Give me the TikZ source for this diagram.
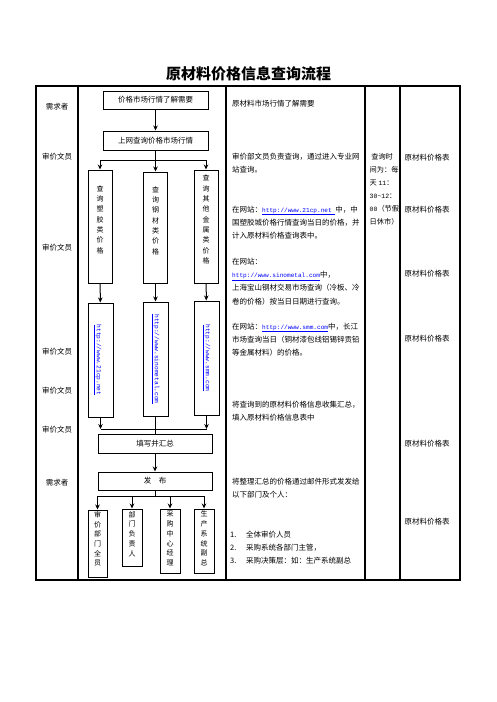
\documentclass[tikz,border=0pt]{standalone}
\usepackage{fontspec}
\setmainfont{Noto Sans CJK SC}
\newfontfamily\urlf{Liberation Mono}
\usetikzlibrary{arrows.meta}
\definecolor{linkblue}{RGB}{0,0,255}
\newcommand{\lnk}[1]{{\fontsize{6.1}{7}\urlf\color{linkblue}\underline{#1}}}
\begin{document}
\begin{tikzpicture}[x=1pt,y=-1pt,
  tbl/.style={line width=1.2pt},
  fbox/.style={draw, line width=1pt, inner sep=0pt, font=\fontsize{7.5}{9}\selectfont},
  vtext/.style={align=center, inner sep=0pt, font=\fontsize{7}{10.3}\selectfont},
  btext/.style={align=center, inner sep=0pt, font=\fontsize{7}{9.7}\selectfont},
  utext/.style={rotate=-90, inner sep=0pt, font=\fontsize{6.2}{7}\urlf\color{linkblue}},
  body/.style={anchor=north west, align=left, inner sep=0pt, font=\fontsize{7.5}{13.4}\selectfont},
  lab/.style={inner sep=0pt, font=\fontsize{7.5}{9}\selectfont},
  arr/.style={line width=1pt, -{Stealth[length=5pt,width=4.5pt]}},
  ln/.style={line width=1pt}]
\useasboundingbox (0,0) rectangle (496,702);
% title
\node[inner sep=0pt, font=\fontsize{15}{18}\bfseries] (title) at (248.5,74) {原材料价格信息查询流程};
% table
\draw[tbl] (36,86) rectangle (460,580);
\draw[tbl] (78,86) -- (78,580);
\draw[tbl] (226,86) -- (226,580);
\draw[tbl] (365,86) -- (365,580);
\draw[tbl] (400,86) -- (400,580);
% left labels
\node[lab] (l1) at (57,107) {需求者};
\node[lab] (l2) at (57,157) {审价文员};
\node[lab] (l3) at (57,248) {审价文员};
\node[lab] (l4) at (57,352) {审价文员};
\node[lab] (l5) at (57,391) {审价文员};
\node[lab] (l6) at (57,430) {审价文员};
\node[lab] (l7) at (57,483) {需求者};
% flow boxes
\node[fbox, minimum width=105pt, minimum height=18pt] (b1) at (155.5,100) {价格市场行情了解需要};
\node[fbox, minimum width=105pt, minimum height=19pt] (b2) at (155.5,140.5) {上网查询价格市场行情};
\node[fbox, minimum width=24pt, minimum height=113pt] (c1) at (100,226.5) {};
\node[fbox, minimum width=24pt, minimum height=111pt] (c2) at (155.5,227.5) {};
\node[fbox, minimum width=24pt, minimum height=113pt] (c3) at (206,226.5) {};
\node[vtext, yshift=7pt] (tc1) at (c1) {查\\询\\塑\\胶\\类\\价\\格};
\node[vtext, yshift=7pt] (tc2) at (c2) {查\\询\\钢\\材\\类\\价\\格};
\node[vtext, yshift=7pt] (tc3) at (c3) {查\\询\\其\\他\\金\\属\\类\\价\\格};
\node[fbox, minimum width=25pt, minimum height=114pt] (u1) at (100.5,360) {};
\node[fbox, minimum width=25pt, minimum height=114pt] (u2) at (155.5,359) {};
\node[fbox, minimum width=25pt, minimum height=114pt] (u3) at (206.5,358) {};
\node[utext, yshift=-3pt] (tu1) at (u1) {\underline{http://www.21cp.net}};
\node[utext] (tu2) at (u2) {\underline{http://www.sinometal.com}};
\node[utext] (tu3) at (u3) {\underline{http://www.smm.com}};
\node[fbox, minimum width=114pt, minimum height=19pt] (b3) at (155,443.5) {填写并汇总};
\node[fbox, minimum width=114pt, minimum height=18pt] (b4) at (155,481) {发\quad 布};
\node[fbox, minimum width=19pt, minimum height=67pt] (d1) at (97.5,543.5) {};
\node[fbox, minimum width=20pt, minimum height=57pt] (d2) at (132,537.5) {};
\node[fbox, minimum width=20pt, minimum height=64pt] (d3) at (170,541) {};
\node[fbox, minimum width=20pt, minimum height=64pt] (d4) at (204,541) {};
\node[btext, yshift=4.5pt] (td1) at (d1) {审\\价\\部\\门\\全\\员};
\node[btext, yshift=3.5pt] (td2) at (d2) {部\\门\\负\\责\\人};
\node[btext, yshift=2.5pt] (td3) at (d3) {采\\购\\中\\心\\经\\理};
\node[btext, yshift=2.5pt] (td4) at (d4) {生\\产\\系\\统\\副\\总};
% connectors
\coordinate (f1) at (155.5,160);
\coordinate (m1) at (155.5,429);
\coordinate (f2) at (155,496);
\draw[arr] (b1) -- (b2);
\draw[arr] (b2) -- (c2);
\draw[ln] (c1.north |- f1) -- (c3.north |- f1);
\draw[arr] (c1.north |- f1) -- (c1.north);
\draw[arr] (c3.north |- f1) -- (c3.north);
\draw[arr] (c1) -- (u1);
\draw[arr] (c2) -- (u2);
\draw[arr] (c3) -- (u3);
\draw[arr] (u1.south) -- (u1.south |- m1);
\draw[arr] (u3.south) -- (u3.south |- m1);
\draw[ln] (u1.south |- m1) -- (u3.south |- m1);
\draw[ln] (u2.south) -- (u2.south |- b3.north);
\draw[arr] (b3) -- (b4);
\draw[ln] (b4.south) -- (f2);
\draw[ln] (d1.north |- f2) -- (d4.north |- f2);
\draw[arr] (d1.north |- f2) -- (d1.north);
\draw[arr] (d2.north |- f2) -- (d2.north);
\draw[arr] (d3.north |- f2) -- (d3.north);
\draw[arr] (d4.north |- f2) -- (d4.north);
% description column
\node[body] (p1) at (232,100) {原材料市场行情了解需要};
\node[body] (p2) at (232,153) {审价部文员负责查询，通过进入专业网\\站查询。};
\node[body] (p3) at (232,205.5) {在网站：\lnk{http://www.21cp.net\ }中，中\\国塑胶城价格行情查询当日的价格，并\\计入原材料价格查询表中。};
\node[body] (p4) at (232,257.5) {在网站：\\\lnk{http://www.sinometal.com}中，\\上海宝山钢材交易市场查询（冷板、冷\\卷的价格）按当日日期进行查询。};
\node[body] (p5) at (232,322.5) {在网站：\lnk{http://www.smm.com}中，长江\\市场查询当日（铜材漆包线铝锡锌贡铅\\等金属材料）的价格。};
\node[body] (p6) at (232,401) {将查询到的原材料价格信息收集汇总，\\填入原材料价格信息表中};
\node[body] (p7) at (232,477.5) {将整理汇总的价格通过邮件形式发发给\\以下部门及个人：};
\node[body] (p8) at (230,530.5) {\makebox[16pt][l]{1.}全体审价人员\\\makebox[16pt][l]{2.}采购系统各部门主管，\\\makebox[16pt][l]{3.}采购决策层：如：生产系统副总};
% time column
\node[anchor=north west, align=left, inner sep=0pt, font=\fontsize{7.2}{13}\selectfont] (q1) at (369.5,153.5) {\ 查询时\\间为：每\\天 {\urlf\fontsize{6.5}{7}\selectfont 11}：\\{\urlf\fontsize{6.5}{7}\selectfont 30\textasciitilde12}：\\{\urlf\fontsize{6.5}{7}\selectfont 00}（节假\\日休市）};
% form column
\node[lab] (r1) at (427,158) {原材料价格表};
\node[lab] (r2) at (427,210) {原材料价格表};
\node[lab] (r3) at (427,274) {原材料价格表};
\node[lab] (r4) at (427,339) {原材料价格表};
\node[lab] (r5) at (427,444) {原材料价格表};
\node[lab] (r6) at (427,522) {原材料价格表};
\end{tikzpicture}
\end{document}
